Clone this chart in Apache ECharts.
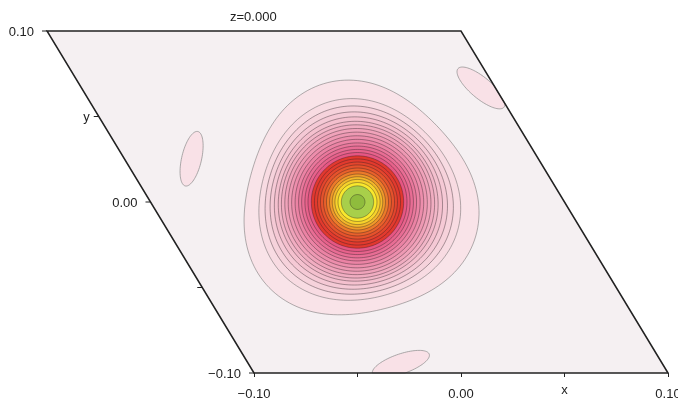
<!DOCTYPE html>
<html><head><meta charset="utf-8">
<script src="https://cdn.jsdelivr.net/npm/echarts@6/dist/echarts.min.js"></script>
<style>html,body{margin:0;padding:0;background:#fff}#c{width:678px;height:401px}</style>
</head><body><div id="c"></div>
<script>
// ---------------- data ----------------
const xTicks = [-0.10, -0.05, 0.00, 0.05, 0.10];
const xTickLabels = ['\u22120.10', '', '0.00', 'x', '0.10'];
const yTicks = [-0.10, -0.05, 0.00, 0.05, 0.10];
const yTickLabels = ['\u22120.10', '', '0.00', 'y', '0.10'];
const sliceTitle = 'z=0.000';
const peakCenter = [0.0, 0.0];
// contour radii (x-axis units), outermost first
const contourRadius = [0.0563, 0.0486, 0.0454, 0.0428, 0.0406, 0.0386, 0.0370, 0.0353, 0.0336,
  0.0319, 0.0302, 0.0285, 0.0270, 0.0254, 0.0239, 0.0223, 0.0208, 0.0193, 0.0179, 0.0164,
  0.0150, 0.0135, 0.0122, 0.0109, 0.0094, 0.0078, 0.0036];
// three-fold distortion of each contour (relative)
const contourTrigonal = [0.056, 0.035, 0.028, 0.022, 0.017, 0.013, 0.010, 0.008, 0.006,
  0.004, 0.003, 0.002, 0.001, 0, 0, 0, 0, 0, 0, 0, 0, 0, 0, 0, 0, 0, 0];
const trigonalPhaseDeg = 16;
// small isolated ripples
const rippleX = [-0.0675, 0.0930, -0.0264];
const rippleY = [0.0253, 0.0667, -0.0947];
const rippleMajor = [0.0135, 0.0145, 0.0145];
const rippleMinor = [0.0048, 0.0051, 0.0048];
const rippleAngleDeg = [-77, 40, -19];

// ---------------- styles / layout ----------------
const bandPalette = ['#f9e3e8', '#f8dbe2', '#f6d2db', '#f5c9d5', '#f4c0ce', '#f2b7c8', '#f1adc1',
  '#f0a3ba', '#ee99b3', '#ed8eac', '#eb83a4', '#ea789c', '#e86d94', '#e7628b', '#e65683',
  '#e2382f', '#e23a2e', '#e4452d', '#e6522c', '#e9612b', '#ec7a2a', '#f09a2a', '#f3b72b',
  '#f6d22c', '#f8e82d', '#a8cf4a', '#8fbc3d'];
const CELL_BG = '#f5f0f2';
const RIPPLE_FILL = '#f9e1e7';
const INK = '#222';
const FONT_FAMILY = '"Liberation Sans", Arial, sans-serif';
const CELL_SKEW = 207 / 342;   // horizontal shift of the b axis per vertical pixel

function toPx(api, x, y) {
  const p = api.coord([x, y]);
  const o = api.coord([xTicks[0], yTicks[0]]);
  return [p[0] - CELL_SKEW * (o[1] - p[1]), p[1]];
}
function cellCorners(api) {
  const a = xTicks[0], b = xTicks[xTicks.length - 1];
  const c = yTicks[0], d = yTicks[yTicks.length - 1];
  return [toPx(api, a, c), toPx(api, a, d), toPx(api, b, d), toPx(api, b, c)];
}
function clipPoly(pts, clip) {
  let out = pts;
  for (let i = 0; i < clip.length; i++) {
    const A = clip[i], B = clip[(i + 1) % clip.length];
    const inp = out; out = [];
    if (!inp.length) break;
    const side = P => (B[0] - A[0]) * (P[1] - A[1]) - (B[1] - A[1]) * (P[0] - A[0]);
    for (let j = 0; j < inp.length; j++) {
      const P = inp[j], Q = inp[(j + 1) % inp.length];
      const sp = side(P), sq = side(Q);
      if (sp >= 0) out.push(P);
      if ((sp >= 0) !== (sq >= 0)) {
        const t = sp / (sp - sq);
        out.push([P[0] + t * (Q[0] - P[0]), P[1] + t * (Q[1] - P[1])]);
      }
    }
  }
  return out;
}

const chart = echarts.init(document.getElementById('c'), null, { renderer: 'canvas' });
const option = {
  animation: false,
  backgroundColor: '#ffffff',
  title: {
    text: sliceTitle, left: 230, top: 11, padding: 0,
    textStyle: { fontSize: 13, fontWeight: 'normal', color: INK, fontFamily: FONT_FAMILY }
  },
  grid: { left: 254, right: 10, top: 31, bottom: 28, containLabel: false, outerBoundsMode: 'none' },
  xAxis: {
    type: 'value', min: xTicks[0], max: xTicks[xTicks.length - 1], interval: 0.05,
    position: 'bottom', z: 10,
    axisLine: { show: true, onZero: false, lineStyle: { color: INK, width: 1.5 } },
    axisTick: { show: true, length: 4, lineStyle: { color: INK, width: 1 } },
    splitLine: { show: false },
    axisLabel: {
      margin: 15, color: INK, fontSize: 13, fontFamily: FONT_FAMILY,
      showMinLabel: true, showMaxLabel: true, hideOverlap: false,
      formatter: function (v) {
        const i = xTicks.findIndex(t => Math.abs(t - v) < 1e-9);
        if (i < 0) return '';
        const s = xTickLabels[i];
        return s.length === 1 ? '{ax|' + s + '}' : s;
      },
      rich: { ax: { fontSize: 13, fontFamily: FONT_FAMILY, color: INK, lineHeight: 4 } }
    }
  },
  yAxis: { type: 'value', min: yTicks[0], max: yTicks[yTicks.length - 1], show: false },
  series: [
    { // cell background
      type: 'custom', z: 1, silent: true, data: [[0]],
      renderItem: function (params, api) {
        return { type: 'polygon', shape: { points: cellCorners(api) }, style: { fill: CELL_BG } };
      }
    },
    { // isolated ripples
      type: 'custom', z: 2, silent: true,
      data: rippleX.map((x, i) => [x, rippleY[i], rippleMajor[i], rippleMinor[i], rippleAngleDeg[i]]),
      renderItem: function (params, api) {
        const c = toPx(api, api.value(0), api.value(1));
        const a = api.size([api.value(2), 0])[0];
        const b = api.size([api.value(3), 0])[0];
        const ang = api.value(4) * Math.PI / 180;
        const pts = [];
        for (let k = 0; k < 90; k++) {
          const t = k / 90 * 2 * Math.PI;
          const ex = a * Math.cos(t), ey = b * Math.sin(t);
          pts.push([c[0] + ex * Math.cos(ang) - ey * Math.sin(ang), c[1] + ex * Math.sin(ang) + ey * Math.cos(ang)]);
        }
        return { type: 'polygon', shape: { points: clipPoly(pts, cellCorners(api)) },
          style: { fill: RIPPLE_FILL, stroke: '#8a8a8a', lineWidth: 0.7 } };
      }
    },
    { // main contour set
      type: 'custom', z: 3, silent: true,
      data: contourRadius.map((r, i) => [i, r, contourTrigonal[i]]),
      renderItem: function (params, api) {
        const idx = api.value(0);
        const rp = api.size([api.value(1), 0])[0];
        const amp = api.value(2);
        const c = toPx(api, peakCenter[0], peakCenter[1]);
        const ph = trigonalPhaseDeg * Math.PI / 180;
        const pts = [];
        for (let k = 0; k < 180; k++) {
          const t = k / 180 * 2 * Math.PI;
          const rr = rp * (1 + amp * Math.cos(3 * (t - ph)));
          pts.push([c[0] + rr * Math.cos(t), c[1] + rr * Math.sin(t)]);
        }
        return { type: 'polygon', shape: { points: pts },
          style: { fill: bandPalette[idx], stroke: idx < 2 ? 'rgba(90,90,90,0.85)' : 'rgba(40,30,35,0.72)', lineWidth: 0.55 } };
      }
    },
    { // cell outline (top, right, left = y axis line)
      type: 'custom', z: 5, silent: true, data: [[0]],
      renderItem: function (params, api) {
        const P = cellCorners(api);
        return { type: 'polyline', shape: { points: [P[0], P[1], P[2], P[3]] },
          style: { fill: null, stroke: INK, lineWidth: 1.5 } };
      }
    },
    { // slanted y axis ticks and labels
      type: 'custom', z: 5, silent: true,
      data: yTicks.map((v, i) => [v, i]),
      renderItem: function (params, api) {
        const v = api.value(0), i = api.value(1);
        const p = toPx(api, xTicks[0], v);
        const lab = yTickLabels[i];
        const gap = lab.length > 1 ? 13 : 9;
        return { type: 'group', children: [
          { type: 'line', shape: { x1: p[0] - 5, y1: p[1], x2: p[0], y2: p[1] }, style: { stroke: INK, lineWidth: 1 } },
          { type: 'text', style: { text: lab, x: p[0] - gap, y: p[1] + 1, align: 'right', verticalAlign: 'middle',
            font: '13px ' + FONT_FAMILY, fill: INK } }
        ] };
      }
    }
  ]
};
chart.setOption(option);
</script>
</body></html>
